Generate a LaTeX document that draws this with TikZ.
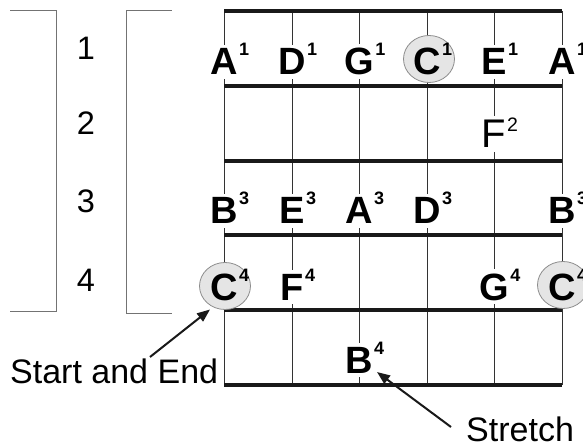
\documentclass[tikz,border=0pt]{standalone}
\usepackage{fontspec}
\setmainfont{Liberation Sans}
\usetikzlibrary{shapes.geometric,arrows.meta}
\newcommand\notetxt[2]{\fontsize{38}{38}\selectfont\bfseries #1\smash{\rlap{\kern1.5pt\raisebox{19pt}{\fontsize{18}{18}\selectfont #2}}}}
\newcommand\notereg[2]{\fontsize{40}{40}\selectfont #1\smash{\rlap{\kern1pt\raisebox{16pt}{\fontsize{19.5}{19.5}\selectfont #2}}}}
\tikzset{
  fret/.style={line width=4pt, draw=black!90},
  stringline/.style={line width=1pt, draw=black!80},
  bracketline/.style={line width=1pt, draw=black!55},
  notelbl/.style={anchor=base, inner sep=4pt, fill=white},
  notecirc/.style={anchor=base, inner sep=4pt},
  hilite/.style={ellipse, draw=black!45, fill=black!10, line width=0.8pt, minimum width=51pt, minimum height=47pt, inner sep=0pt},
  numlbl/.style={anchor=base, inner sep=0pt, font=\fontsize{32.5}{32.5}\selectfont},
  caption/.style={anchor=base west, inner sep=0pt, font=\fontsize{34}{34}\selectfont},
  pointer/.style={line width=2pt, draw=black!90, -{Triangle[length=13pt,width=10pt]}}
}
\begin{document}
\begin{tikzpicture}[x=1pt,y=-1pt]
\useasboundingbox (0,0) rectangle (583,446);
% strings (vertical)
\foreach \sx/\nm in {224/s1,292/s2,359/s3,427/s4,494/s5,562/s6}{
  \coordinate (\nm top) at (\sx,11);
  \coordinate (\nm bot) at (\sx,385);
  \draw[stringline] (\nm top) -- (\nm bot);
}
% frets (horizontal)
\foreach \fy/\nm in {11/f0,86/f1,161/f2,235/f3,310/f4,385/f5}{
  \coordinate (\nm l) at (224,\fy);
  \coordinate (\nm r) at (562,\fy);
  \draw[fret] (\nm l) -- (\nm r);
}
% brackets
\coordinate (b1a) at (10,10.7);
\coordinate (b1b) at (56,10.7);
\coordinate (b1c) at (56,311.7);
\coordinate (b1d) at (10,311.7);
\draw[bracketline] (b1a) -- (b1b) -- (b1c) -- (b1d);
\coordinate (b2a) at (171.7,10.7);
\coordinate (b2b) at (126.7,10.7);
\coordinate (b2c) at (126.7,313.3);
\coordinate (b2d) at (171.7,313.3);
\draw[bracketline] (b2a) -- (b2b) -- (b2c) -- (b2d);
% row numbers
\node[numlbl] (n1) at (86,60) {1};
\node[numlbl] (n2) at (86,135) {2};
\node[numlbl] (n3) at (86,213) {3};
\node[numlbl] (n4) at (86,291) {4};
% captions and pointers
\node[caption] (sae) at (10,383) {Start and End};
\node[caption] (str) at (466,441) {Stretch};
\coordinate (saetail) at (150,357);
\coordinate (saetip) at (210,309.5);
\coordinate (strtail) at (451,427);
\coordinate (strtip) at (377,372);
\draw[pointer] (saetail) -- (saetip);
\draw[pointer] (strtail) -- (strtip);
% highlight circles
\node[hilite] (h1) at (429,59) {};
\node[hilite] (h2) at (225,286) {};
\node[hilite] (h3) at (563,285) {};
% row 1
\node[notelbl] (a1) at (224,75) {\notetxt{A}{1}};
\node[notelbl] (d1) at (292,75) {\notetxt{D}{1}};
\node[notelbl] (g1) at (359,75) {\notetxt{G}{1}};
\node[notecirc] (c1) at (427,75) {\notetxt{C}{1}};
\node[notelbl] (e1) at (494,75) {\notetxt{E}{1}};
\node[notelbl] (a1r) at (562,75) {\notetxt{A}{1}};
% row 2
\node[notelbl] (f2) at (494,148) {\notereg{F}{2}};
% row 3
\node[notelbl] (b3) at (224,224) {\notetxt{B}{3}};
\node[notelbl] (e3) at (292,224) {\notetxt{E}{3}};
\node[notelbl] (a3) at (359,224) {\notetxt{A}{3}};
\node[notelbl] (d3) at (427,224) {\notetxt{D}{3}};
\node[notelbl] (b3r) at (562,224) {\notetxt{B}{3}};
% row 4
\node[notecirc] (c4) at (224,300) {\notetxt{C}{4}};
\node[notelbl] (f4) at (292,300) {\notetxt{F}{4}};
\node[notelbl] (g4) at (494,300) {\notetxt{G}{4}};
\node[notecirc] (c4r) at (562,300) {\notetxt{C}{4}};
% row 5
\node[notelbl] (b4) at (359,373) {\notetxt{B}{4}};
\end{tikzpicture}
\end{document}
